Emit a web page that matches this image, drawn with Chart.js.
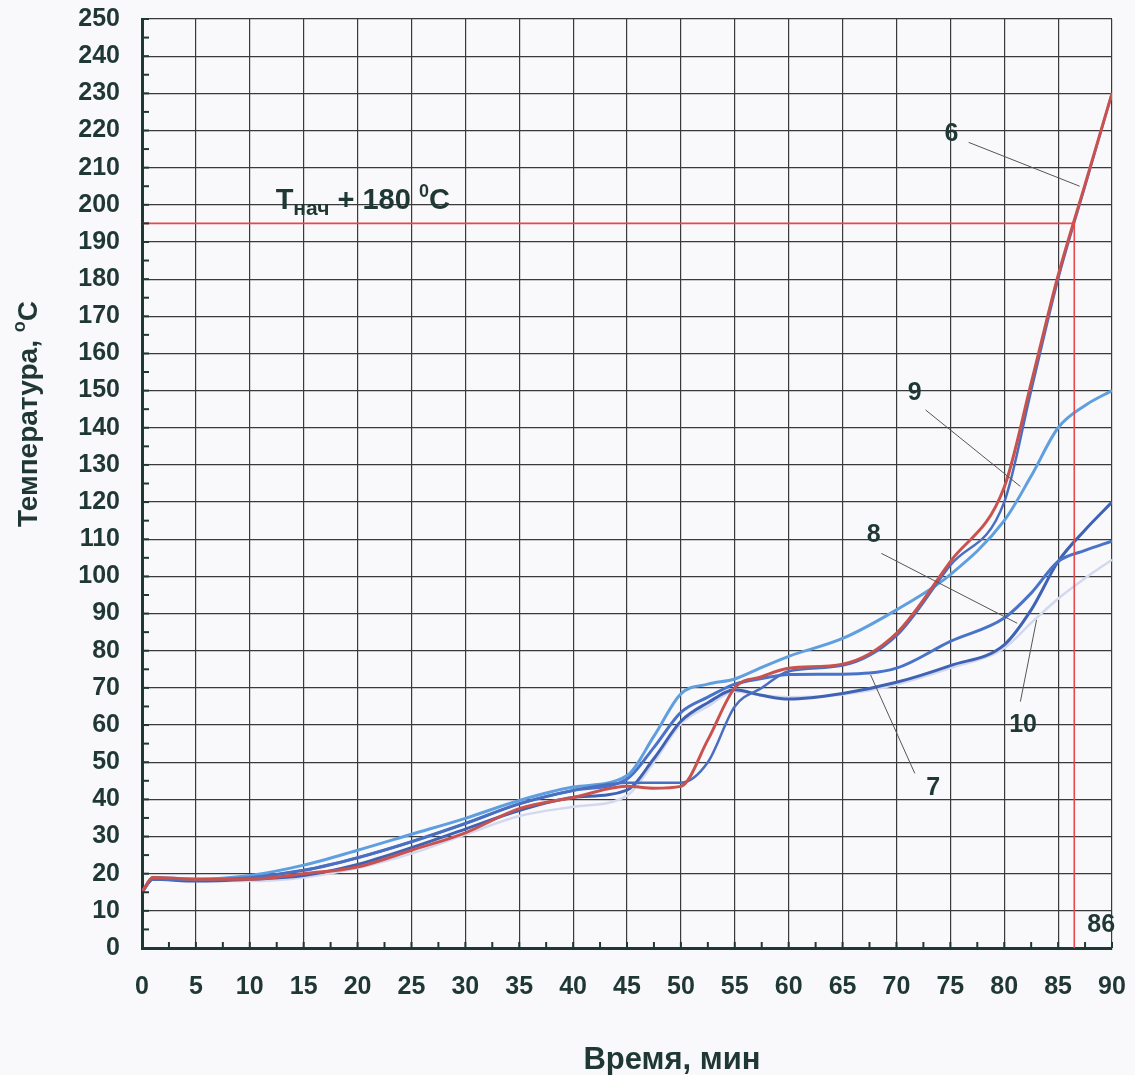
<!DOCTYPE html>
<html lang="ru">
<head>
<meta charset="utf-8">
<title>Температура от времени</title>
<script src="https://cdn.jsdelivr.net/npm/chart.js@4/dist/chart.umd.min.js"></script>
<style>
  html, body { margin: 0; padding: 0; background: #f9f9fb; }
  #wrap { width: 1135px; height: 1075px; position: relative; }
</style>
</head>
<body>
<div id="wrap"><canvas id="tempChart"></canvas></div>
<script>
// время, мин
const minutes = [0, 1, 5, 10, 15, 20, 25, 30, 35, 40, 45, 47.5, 50, 52.5, 55, 57.5, 60, 65, 70, 75, 80, 82.5, 85, 87.5, 90];

// температура, °C (кривые 6-10)
const curve6  = [15, 19, 18.5, 18.5, 20, 21.8, 26.3, 31, 37.5, 40.5, 43.5, 43, 43.5, 56, 70, 73, 75.3, 76.4, 84.7, 104, 124, 152, 181, 205.5, 230];
const curve6b = [15, 18.5, 18.5, 19, 20.9, 24.3, 28.6, 33.5, 38.8, 42.4, 44.5, 44.5, 44.5, 50, 65, 70, 74.5, 76, 84, 103, 120, 150, 180, 205, 230];
const curve9  = [15, 19, 18.5, 19.5, 22.3, 26.3, 30.6, 34.9, 39.7, 43.3, 46.4, 57, 68.4, 71, 72.4, 75.5, 78.5, 83.3, 91, 100.5, 115, 127, 140, 146, 150];
const curve7  = [15, 18.5, 18.5, 19, 20.9, 24.3, 28.6, 33.5, 38.8, 42.4, 45.5, 54, 63.4, 67.5, 71, 72.5, 73.6, 73.7, 75.3, 82.5, 88.8, 95.5, 104, 107, 109.5];
const curve8  = [15, 18.5, 18, 18.5, 19.5, 22.5, 27, 32, 37, 40.5, 42.5, 51, 61, 66, 69.5, 68, 67, 68.5, 71.5, 76, 81.6, 91, 104, 112.5, 120];
const curve10 = [15, 18.5, 18, 18, 19, 21.5, 25.4, 30.5, 35.5, 38, 41, 50, 60.3, 65, 69, 68, 67.5, 68.2, 70.9, 75.3, 80.7, 87.5, 94, 99.5, 104.5];

// Тнач + 180 °C и момент его достижения
const limitTemp = 195;
const limitTime = 86.5;

const xTicks = { min: 0, max: 90, step: 5 };
const yTicks = { min: 0, max: 250, step: 10 };

// подписи кривых: [текст, t, T, t1, T1, t2, T2] (t1..T2 - выноска)
const curveLabels = [
    ['6', 75.1, 218.9, 76.7, 216.8, 87.0, 205],
    ['9', 71.7, 149.4, 72.7, 144.8, 81.5, 124.2],
    ['8', 67.9, 111.2, 68.6, 106.2, 81.2, 87.4],
    ['7', 73.4, 43, 71.7, 47, 67.6, 73.5],
    ['10', 81.75, 60, 81.5, 66.3, 83.0, 88.3]
];

const INK = '#1f3833';
const FONT = '"Liberation Sans", Arial, sans-serif';

function pts(arr) {
    return arr.map((v, i) => ({ x: minutes[i], y: v }));
}

function curve(data, color, width) {
    return {
        data: pts(data),
        borderColor: color,
        borderWidth: width,
        pointRadius: 0,
        cubicInterpolationMode: 'monotone',
        fill: false
    };
}

const decor = {
    id: 'decor',
    afterDraw(chart) {
        const { ctx, chartArea: a, scales: { x, y } } = chart;
        ctx.save();

        // мелкие засечки на осях
        ctx.strokeStyle = INK;
        ctx.lineWidth = 2;
        for (let v = yTicks.min; v <= yTicks.max; v += 5) {
            const py = y.getPixelForValue(v);
            ctx.beginPath(); ctx.moveTo(a.left, py); ctx.lineTo(a.left + 7, py); ctx.stroke();
        }
        for (let v = xTicks.min; v <= xTicks.max; v += 2.5) {
            const px = x.getPixelForValue(v);
            ctx.beginPath(); ctx.moveTo(px, a.bottom); ctx.lineTo(px, a.bottom - 6); ctx.stroke();
        }

        // выноски
        ctx.strokeStyle = '#555';
        ctx.lineWidth = 1;
        curveLabels.forEach(l => {
            ctx.beginPath();
            ctx.moveTo(x.getPixelForValue(l[3]), y.getPixelForValue(l[4]));
            ctx.lineTo(x.getPixelForValue(l[5]), y.getPixelForValue(l[6]));
            ctx.stroke();
        });

        ctx.fillStyle = INK;
        ctx.textAlign = 'center';
        ctx.textBaseline = 'middle';
        ctx.font = 'bold 25px ' + FONT;
        curveLabels.forEach(l => {
            ctx.fillText(l[0], x.getPixelForValue(l[1]), y.getPixelForValue(l[2]));
        });
        ctx.fillText(String(Math.floor(limitTime)), x.getPixelForValue(89), y.getPixelForValue(6.2));

        // Тнач + 180 °C
        ctx.textAlign = 'left';
        ctx.textBaseline = 'alphabetic';
        let tx = x.getPixelForValue(12.4);
        const ty = y.getPixelForValue(199);
        const run = (s, size, dy) => {
            ctx.font = 'bold ' + size + 'px ' + FONT;
            ctx.fillText(s, tx, ty + dy);
            tx += ctx.measureText(s).width;
        };
        run('Т', 29, 0);
        run('нач', 21, 6);
        run(' + 180 ', 29, 0);
        run('0', 18, -12);
        run('C', 29, 0);

        // подписи осей
        ctx.textAlign = 'center';
        ctx.textBaseline = 'middle';
        ctx.font = 'bold 31px ' + FONT;
        ctx.fillText('Время, мин', 672, 1060);

        ctx.translate(29, 414);
        ctx.rotate(-Math.PI / 2);
        ctx.font = 'bold 28px ' + FONT;
        const main = 'Температура, ';
        const w1 = ctx.measureText(main).width;
        ctx.font = 'bold 18px ' + FONT;
        const w2 = ctx.measureText('o').width;
        ctx.font = 'bold 28px ' + FONT;
        const w3 = ctx.measureText('C').width;
        let sx = -(w1 + w2 + w3) / 2;
        ctx.textAlign = 'left';
        ctx.fillText(main, sx, 0);
        sx += w1;
        ctx.font = 'bold 18px ' + FONT;
        ctx.fillText('o', sx, -9);
        sx += w2;
        ctx.font = 'bold 28px ' + FONT;
        ctx.fillText('C', sx, 0);

        ctx.restore();
    }
};

new Chart(document.getElementById('tempChart'), {
    type: 'line',
    data: {
        datasets: [
            {
                data: [{ x: 0, y: limitTemp }, { x: limitTime, y: limitTemp }, { x: limitTime, y: 0 }],
                borderColor: '#e8474c',
                borderWidth: 1.6,
                pointRadius: 0,
                tension: 0,
                fill: false
            },
            curve(curve6, '#c9524e', 3),
            curve(curve6b, '#4a6fc0', 2.5),
            curve(curve9, '#5f9fe0', 3),
            curve(curve7, '#4873c8', 3),
            curve(curve8, '#3f62b4', 3),
            curve(curve10, '#d3d8ee', 2.5)
        ]
    },
    options: {
        responsive: true,
        maintainAspectRatio: false,
        animation: false,
        layout: { padding: { top: 19, right: 23, left: 0, bottom: 0 } },
        plugins: {
            legend: { display: false },
            tooltip: { enabled: false }
        },
        scales: {
            x: {
                type: 'linear',
                min: xTicks.min,
                max: xTicks.max,
                afterFit(scale) {
                    scale.height = 127;
                    scale.paddingLeft = 0;
                    scale.paddingRight = 0;
                },
                grid: { color: '#3a3a3a', lineWidth: 1.2, drawTicks: false },
                border: { color: INK, width: 3 },
                ticks: {
                    stepSize: xTicks.step,
                    padding: 24,
                    color: INK,
                    font: { family: FONT, size: 25, weight: 'bold' }
                }
            },
            y: {
                min: yTicks.min,
                max: yTicks.max,
                afterFit(scale) {
                    scale.width = 142;
                    scale.paddingTop = 0;
                    scale.paddingBottom = 0;
                },
                grid: { color: '#3a3a3a', lineWidth: 1.2, drawTicks: false },
                border: { color: INK, width: 3 },
                ticks: {
                    stepSize: yTicks.step,
                    padding: 22,
                    color: INK,
                    font: { family: FONT, size: 25, weight: 'bold' }
                }
            }
        }
    },
    plugins: [decor]
});
</script>
</body>
</html>
